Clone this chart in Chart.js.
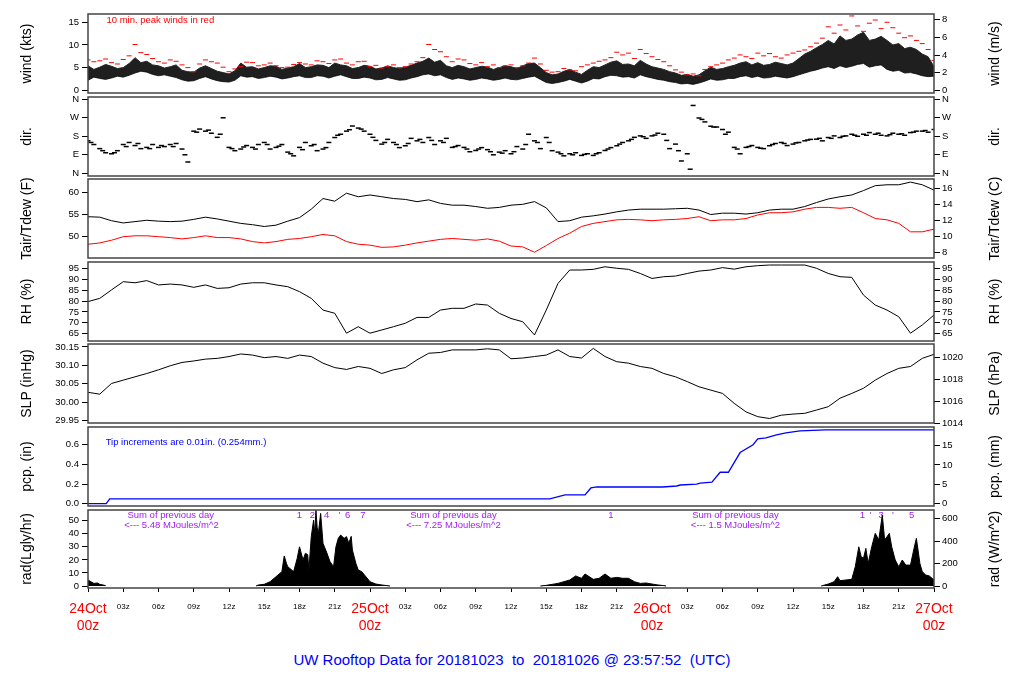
<!DOCTYPE html>
<html>
<head>
<meta charset="utf-8">
<script src="https://cdn.jsdelivr.net/npm/chart.js@4.4.1/dist/chart.umd.min.js"></script>
<style>
  body { margin: 0; background: #fff; width: 1024px; height: 700px; position: relative; overflow: hidden; font-family: "Liberation Sans", Arial, sans-serif; }
  #title { position: absolute; left: 0; top: 651px; width: 1024px; text-align: center; color: #0000ff; font-size: 15px; white-space: pre; }
</style>
</head>
<body>
<div id="title">UW Rooftop Data for 20181023  to  20181026 @ 23:57:52  (UTC)</div>
<script>
// sample times (hours after 24Oct 00z)
const hours = [0,1,2,3,4,5,6,7,8,9,10,11,12,13,14,15,16,17,18,19,20,21,22,23,24,25,26,27,28,29,30,31,32,33,34,35,36,
  37,38,39,40,41,42,43,44,45,46,47,48,49,50,51,52,53,54,55,56,57,58,59,60,61,62,63,64,65,66,67,68,69,70,71,72];
const halfHours = [0.5,1.5,2.5,3.5,4.5,5.5,6.5,7.5,8.5,9.5,10.5,11.5,12.5,13.5,14.5,15.5,16.5,17.5,18.5,19.5,20.5,21.5,
  22.5,23.5,24.5,25.5,26.5,27.5,28.5,29.5,30.5,31.5,32.5,33.5,34.5,35.5,36.5,37.5,38.5,39.5,40.5,41.5,42.5,43.5,44.5,
  45.5,46.5,47.5,48.5,49.5,50.5,51.5,52.5,53.5,54.5,55.5,56.5,57.5,58.5,59.5,60.5,61.5,62.5,63.5,64.5,65.5,66.5,67.5,
  68.5,69.5,70.5,71.5];
const quarterHours = [0.25,1.25,2.25,3.25,4.25,5.25,6.25,7.25,8.25,9.25,10.25,11.25,12.25,13.25,14.25,15.25,16.25,17.25,
  18.25,19.25,20.25,21.25,22.25,23.25,24.25,25.25,26.25,27.25,28.25,29.25,30.25,31.25,32.25,33.25,34.25,35.25,36.25,
  37.25,38.25,39.25,40.25,41.25,42.25,43.25,44.25,45.25,46.25,47.25,48.25,49.25,50.25,51.25,52.25,53.25,54.25,55.25,
  56.25,57.25,58.25,59.25,60.25,61.25,62.25,63.25,64.25,65.25,66.25,67.25,68.25,69.25,70.25,71.25];
const windTimes = [0,0.5,1,1.5,2,2.5,3,3.5,4,4.5,5,5.5,6,6.5,7,7.5,8,8.5,9,9.5,10,10.5,11,11.5,12,12.5,13,13.5,14,14.5,
  15,15.5,16,16.5,17,17.5,18,18.5,19,19.5,20,20.5,21,21.5,22,22.5,23,23.5,24,24.5,25,25.5,26,26.5,27,27.5,28,28.5,29,
  29.5,30,30.5,31,31.5,32,32.5,33,33.5,34,34.5,35,35.5,36,36.5,37,37.5,38,38.5,39,39.5,40,40.5,41,41.5,42,42.5,43,
  43.5,44,44.5,45,45.5,46,46.5,47,47.5,48,48.5,49,49.5,50,50.5,51,51.5,52,52.5,53,53.5,54,54.5,55,55.5,56,56.5,57,
  57.5,58,58.5,59,59.5,60,60.5,61,61.5,62,62.5,63,63.5,64,64.5,65,65.5,66,66.5,67,67.5,68,68.5,69,69.5,70,70.5,71,
  71.5,72];

// wind (kts): upper / lower edge of the 1-min trace (half hourly), and 10 min peaks
const windHi = [5.4,4.6,5.1,5.7,5.3,4.8,5.0,5.9,7.2,6.1,6.4,5.6,5.4,4.9,5.2,5.6,4.4,4.1,4.0,4.9,5.4,4.8,4.2,3.9,3.6,
  4.3,6.0,5.1,5.2,4.7,5.0,5.4,5.3,4.6,4.9,5.2,5.9,5.0,5.2,5.6,5.5,5.0,6.0,5.6,5.4,4.8,5.0,5.5,5.3,4.7,4.9,5.4,5.0,
  4.8,5.1,5.5,6.0,6.4,7.1,6.2,6.6,5.4,5.0,5.5,5.2,4.7,5.0,5.3,5.1,4.6,5.0,5.4,5.2,4.8,5.4,5.9,6.0,5.0,3.9,3.4,3.6,
  4.2,4.6,4.0,3.5,4.4,5.2,5.0,5.6,6.2,6.5,5.7,5.8,5.4,6.6,5.8,5.2,4.9,4.6,4.1,3.8,3.3,3.5,3.1,3.4,4.3,5.1,4.6,4.8,
  5.2,5.5,6.0,6.3,5.6,6.1,5.5,5.7,6.2,5.9,5.6,6.0,7.0,8.0,8.6,9.4,10.1,11.0,10.2,12.0,11.0,11.3,12.2,12.8,11.0,11.3,
  11.9,11.0,10.0,10.3,9.2,9.5,9.0,8.0,7.4,5.2];
const windLo = [2.2,2.9,2.6,2.4,2.7,3.1,2.9,3.3,3.8,4.2,4.0,3.5,3.2,3.4,3.1,2.8,2.3,2.0,2.1,2.6,3.0,2.5,2.1,1.9,1.8,
  2.2,3.2,2.9,3.0,2.6,2.8,3.1,2.9,2.5,2.7,3.0,3.2,2.8,2.8,3.2,3.1,2.7,3.1,3.4,3.0,2.6,2.6,2.9,2.7,2.3,2.4,2.8,2.5,
  2.2,2.3,2.7,3.0,3.4,3.6,3.2,3.4,2.8,2.4,2.7,2.5,2.2,2.4,2.7,2.5,2.2,2.4,2.7,2.4,2.3,2.6,2.9,3.1,2.4,1.7,1.5,1.7,
  2.0,2.4,2.0,1.6,2.0,2.6,2.5,3.0,3.3,3.2,2.9,3.0,2.7,3.4,3.0,2.7,2.4,2.2,1.9,1.7,1.4,1.5,1.3,1.6,2.0,2.5,2.2,2.3,
  2.6,2.6,3.0,3.2,2.8,3.1,2.7,2.8,3.1,2.9,2.7,3.0,3.4,3.8,4.2,4.5,4.9,5.2,4.8,5.4,5.0,5.3,5.7,5.9,5.1,5.4,5.6,4.6,
  4.2,4.4,3.8,3.9,3.6,3.2,3.0,3.1];
const windPeak = [6.7,6.5,6.1,6.8,10.1,7.9,6.3,6.7,5.6,4.1,6.7,6.0,4.1,5.2,6.1,5.6,5.4,5.1,6.1,5.6,6.3,6.7,6.0,6.3,5.2,
  4.9,5.6,5.2,6.3,10.1,8.5,6.3,6.7,5.6,5.2,5.0,5.6,5.4,7.1,4.4,4.1,4.5,5.2,6.0,6.7,8.4,8.2,9.0,7.4,6.3,4.5,3.4,3.2,5.2,
  6.0,7.1,7.4,8.2,8.1,7.1,8.2,8.9,10.4,14.0,14.4,16.4,13.0,15.5,15.0,12.6,12.0,10.3,6.6];
const windPeakHalf = [6.3,6.9,5.8,7.6,8.3,7.0,6.0,6.4,5.0,5.8,6.3,5.1,4.7,6.2,5.4,6.0,5.0,5.7,5.8,6.5,5.9,6.9,5.6,6.4,
  5.5,5.2,5.0,5.8,7.2,9.0,7.4,6.9,5.9,6.1,5.6,5.4,5.0,6.0,5.8,4.0,4.8,4.3,5.6,6.4,7.2,7.8,7.0,8.1,6.8,5.4,4.0,3.6,4.6,
  5.6,6.7,7.8,7.0,7.6,7.4,7.8,8.6,9.6,11.5,12.6,13.3,14.2,14.8,13.6,13.8,11.6,11.0,9.0];

// wind direction (deg), on the hour, quarter past and half past
const dirA = [158,120,95,140,135,126,126,140,118,205,205,175,126,118,126,150,126,103,126,134,118,174,205,220,190,142,150,
  134,158,174,158,126,126,111,115,103,95,118,158,174,103,95,87,87,111,134,158,182,182,190,142,95,269,229,213,126,126,
  126,134,150,142,158,166,174,174,190,190,190,182,190,198,205,213];
const dirB = [140,100,110,150,120,140,130,145,55,215,195,270,110,135,140,118,140,85,150,110,150,190,230,205,160,165,125,
  170,150,140,170,135,105,125,90,110,130,190,120,110,85,100,95,100,125,150,175,170,195,120,60,330,250,225,200,95,135,
  120,145,135,150,165,158,182,182,180,198,185,195,185,205,200];
const dirC = [150,110,100,130,145,120,135,130,90,200,210,190,120,128,118,140,132,95,115,140,125,185,212,215,175,150,140,
  145,165,160,150,130,118,118,105,98,105,140,150,150,95,90,92,95,118,142,165,178,186,160,110,20,262,225,190,118,130,
  122,140,145,148,162,170,170,180,185,185,195,188,192,200,208];

// air and dew point temperature (F)
const tair = [54.5,54.4,53.6,53.1,53.4,53.7,53.5,53.4,53.5,53.9,54.4,54.0,53.5,53.0,52.7,52.3,52.6,53.5,54.3,56.2,58.6,
  58.0,59.8,59.0,59.4,59.0,58.6,58.4,57.9,58.3,57.5,57.1,57.1,56.8,56.4,56.6,57.1,57.3,57.9,56.5,53.4,53.6,54.4,54.7,
  55.1,55.6,56.0,56.2,56.2,56.2,56.3,56.4,56.0,55.0,55.3,55.3,55.1,55.4,56.0,56.2,56.2,56.8,57.7,58.5,59.0,59.4,60.4,
  61.5,61.7,61.7,62.3,61.7,60.5];
const tdew = [48.3,48.6,49.2,50.0,50.2,50.2,50.0,49.8,49.5,49.8,50.2,49.8,49.8,49.5,48.9,48.6,48.9,49.4,49.6,50.0,50.5,
  50.2,48.9,48.3,48.1,47.6,47.7,48.1,48.6,49.0,49.4,49.6,49.4,49.2,49.5,49.0,47.9,47.7,46.5,48.0,49.6,50.8,52.3,53.0,
  53.4,53.8,53.9,53.8,53.6,53.8,53.9,54.1,54.5,53.6,53.8,53.8,54.1,54.9,55.4,55.4,55.6,56.2,56.6,56.6,56.4,56.6,55.4,
  54.1,53.8,53.0,51.1,51.1,51.7];

// relative humidity (%)
const rh = [79.8,81.3,85.2,89.0,88.5,89.5,87.5,87.9,87.5,86.4,87.5,85.9,86.2,87.9,88.5,88.5,87.5,86.7,84.4,81.3,75.9,
  74.4,65.2,68.2,65.2,66.7,68.2,69.8,72.5,72.5,75.9,76.7,76.7,78.7,78.2,74.4,72.0,70.5,64.4,75.9,88.2,94.4,94.4,94.7,
  95.9,95.2,94.7,92.8,90.5,91.3,91.6,92.8,93.9,94.4,95.5,94.8,95.9,96.4,96.7,96.7,96.7,96.7,95.2,92.8,91.3,91.0,82.8,
  78.2,75.9,72.8,65.2,69.0,73.6];

// sea level pressure (inHg)
const slp = [30.027,30.022,30.051,30.060,30.069,30.078,30.088,30.099,30.108,30.112,30.117,30.119,30.124,30.131,30.128,
  30.121,30.124,30.119,30.128,30.124,30.106,30.094,30.089,30.097,30.092,30.078,30.088,30.094,30.115,30.133,30.135,
  30.142,30.142,30.142,30.145,30.142,30.118,30.120,30.124,30.128,30.142,30.124,30.120,30.146,30.124,30.110,30.106,
  30.097,30.092,30.078,30.069,30.056,30.042,30.033,30.024,29.997,29.974,29.961,29.956,29.965,29.968,29.970,29.979,
  29.988,30.011,30.024,30.038,30.060,30.078,30.092,30.097,30.119,30.130];

// accumulated precipitation (in)
const pcpHours = [0,1.55,1.85,39.3,40.6,42.3,42.8,43.3,48.9,50.1,50.4,51.8,52.1,53.1,53.8,54.5,55.5,56.6,57.0,57.7,58.6,
  59.4,60.6,62.8,72];
const pcpVals = [0,0,0.05,0.05,0.09,0.09,0.16,0.17,0.17,0.18,0.19,0.20,0.21,0.22,0.32,0.32,0.52,0.60,0.66,0.67,0.70,
  0.72,0.74,0.75,0.75];

// solar radiation (Langley/hr); null = night gap
const radHours = [0,0.3,0.5,0.8,1,1.5,1.6,
  14.3,14.5,15,15.5,16,16.5,16.7,16.9,17,17.5,17.8,18,18.3,18.5,18.7,18.8,19,19.2,19.3,19.4,19.5,19.6,19.8,20,20.3,
  20.6,20.9,21.1,21.3,21.5,21.8,22,22.2,22.4,22.5,22.8,23,23.3,23.6,24,24.5,25,25.7,25.8,
  38.5,39,40,41,41.5,42,42.3,43,43.5,44,44.5,45,45.5,46,46.5,47,47.5,48,48.5,49,49.2,49.3,
  62.4,63,63.5,63.8,64,64.5,65,65.3,65.6,65.8,66,66.2,66.4,66.7,67,67.3,67.6,67.8,68,68.2,68.4,68.7,69,69.3,69.6,70,
  70.3,70.5,70.8,71,71.3,71.6,72];
const radVals = [4.6,3,2,2.3,1.3,0.3,null,
  0,0.8,1.3,3.3,7.1,11,23,17,14.8,11,21,30,20,25,24,12,37.8,50.5,40,58,45,40,55.6,32.7,26,
  18.6,14.8,30,36.5,39,36.5,37.8,32.7,38,27.6,17.3,12.2,11,7.7,3.3,1.5,0.8,0,null,
  0,0.5,2,4.6,7.7,5.9,9.2,5.1,5.9,9.2,5.9,6.6,5.9,5.9,3.3,2,2.3,1.5,0.8,0.3,0,null,
  0,1.5,3.3,7.1,4.1,4.6,5.1,14.8,30,22.4,21.2,28.8,17.3,30,40.3,35.2,54.3,35.2,37.8,40.3,30,19.9,14.8,19.9,16,16,
  28.8,36.5,17.3,11,8.4,7.7,4.6];

// axis ticks
const timeTicks = [0,3,6,9,12,15,18,21,24,27,30,33,36,39,42,45,48,51,54,57,60,63,66,69,72];
const timeLabels = [['24Oct','00z'],'03z','06z','09z','12z','15z','18z','21z',['25Oct','00z'],'03z','06z','09z','12z',
  '15z','18z','21z',['26Oct','00z'],'03z','06z','09z','12z','15z','18z','21z',['27Oct','00z']];
const windTicks = [0,5,10,15];
const windMsTicks = [0,2,4,6,8];
const dirTicks = [0,90,180,270,360];
const dirLabels = ['N','E','S','W','N'];
const tempFTicks = [50,55,60];
const tempCTicks = [8,10,12,14,16];
const rhTicks = [65,70,75,80,85,90,95];
const slpTicks = [29.95,30.00,30.05,30.10,30.15];
const slpHpaTicks = [1014,1016,1018,1020];
const pcpTicks = [0,0.2,0.4,0.6];
const pcpMmTicks = [0,5,10,15];
const radTicks = [0,10,20,30,40,50];
const radWTicks = [0,200,400,600];

Chart.defaults.font.family = '"Liberation Sans", Arial, Helvetica, sans-serif';
Chart.defaults.color = '#000';

const PURPLE = '#a020f0';
const panelTops = [14, 97, 179, 262, 344, 427, 510];
const panelHeights = [79, 79, 79, 79, 79, 79, 78];

const pts = (xs, ys) => xs.map((x, i) => ({x: x, y: ys[i]}));

function decor(leftTitle, rightTitle, notes) {
    return {
        id: 'decor',
        beforeDatasetsDraw(chart) {
            const ctx = chart.ctx;
            ctx.save();
            notes.forEach(n => {
                ctx.fillStyle = n.color;
                ctx.font = (n.size || 9.5) + 'px "Liberation Sans", Arial, sans-serif';
                ctx.textAlign = n.align || 'center';
                ctx.textBaseline = 'middle';
                ctx.fillText(n.text, chart.scales.x.getPixelForValue(n.x), chart.scales.y.getPixelForValue(n.y));
            });
            ctx.restore();
        },
        afterDraw(chart) {
            const ctx = chart.ctx, a = chart.chartArea;
            ctx.save();
            ctx.strokeStyle = '#444';
            ctx.lineWidth = 1.5;
            ctx.strokeRect(a.left, a.top, a.right - a.left, a.bottom - a.top);
            ctx.fillStyle = '#000';
            ctx.font = '14px "Liberation Sans", Arial, sans-serif';
            ctx.textAlign = 'center';
            ctx.textBaseline = 'middle';
            const cy = (a.top + a.bottom) / 2;
            [[27, leftTitle], [995, rightTitle]].forEach(([x, t]) => {
                ctx.save();
                ctx.translate(x, cy);
                ctx.rotate(-Math.PI / 2);
                ctx.fillText(t, 0, 0);
                ctx.restore();
            });
            ctx.restore();
        }
    };
}

function yAxis(pos, min, max, ticks, fmt) {
    return {
        type: 'linear', position: pos, min: min, max: max,
        afterFit: s => { s.width = pos === 'left' ? 88 : 90; },
        afterBuildTicks: s => { s.ticks = ticks.map(v => ({value: v})); },
        grid: {drawOnChartArea: false, drawTicks: true, tickLength: 6, color: '#000'},
        border: {display: false},
        ticks: {autoSkip: false, padding: pos === 'left' ? 3 : 2, font: {size: 9.5}, color: '#000',
            callback: (v, i) => fmt(v, i)}
    };
}

const plain = v => String(v);

const xAxis = {
    type: 'linear', position: 'bottom', min: 0, max: 72,
    afterFit: s => { s.height = 52; },
    afterBuildTicks: s => { s.ticks = timeTicks.map(v => ({value: v})); },
    grid: {drawOnChartArea: false, drawTicks: true, tickLength: 4, color: '#000'},
    border: {display: false},
    ticks: {
        autoSkip: false, maxRotation: 0, padding: 9.5,
        callback: (v, i) => timeLabels[i],
        color: c => (c.tick && c.tick.value % 24 === 0) ? '#ff0000' : '#000',
        font: c => (c.tick && c.tick.value % 24 === 0) ? {size: 14, lineHeight: 1.15} : {size: 8}
    }
};

function panel(i, datasets, yl, yr, leftTitle, rightTitle, notes, showX) {
    const padT = 12, padB = showX ? 0 : 12, axisH = showX ? 52 : 0;
    const wrap = document.createElement('div');
    wrap.style.cssText = 'position:absolute;left:0;top:' + (panelTops[i] - padT) + 'px';
    const cv = document.createElement('canvas');
    cv.width = 1024;
    cv.height = padT + panelHeights[i] + padB + axisH;
    wrap.appendChild(cv);
    document.body.appendChild(wrap);
    return new Chart(cv, {
        type: 'line',
        data: {datasets: datasets},
        options: {
            responsive: false, animation: false,
            layout: {padding: {top: padT, bottom: padB, left: 0, right: 0}},
            plugins: {legend: {display: false}, tooltip: {enabled: false}},
            elements: {point: {radius: 0}, line: {tension: 0}},
            scales: {
                x: showX ? xAxis : {type: 'linear', min: 0, max: 72, display: false},
                y: yl,
                y2: yr
            }
        },
        plugins: [decor(leftTitle, rightTitle, notes)]
    });
}

const KTS_PER_MS = 1.94384, HPA_PER_INHG = 33.8639, MM_PER_IN = 25.4, WM2_PER_LYHR = 11.63;
const fToC = f => (f - 32) / 1.8;

const dash = (xs, ys, color, w) => ({data: pts(xs, ys), showLine: false, pointStyle: 'line', pointRadius: 2.5,
    pointBorderColor: color, pointBorderWidth: w, borderColor: color});

// wind
panel(0, [
    dash(hours, windPeak, '#ff0000', 1),
    dash(halfHours, windPeakHalf, '#ff0000', 1),
    {data: pts(windTimes, windHi), borderColor: '#222', borderWidth: 1, backgroundColor: 'rgba(0,0,0,0.88)', fill: '+1'},
    {data: pts(windTimes, windLo), borderColor: '#444', borderWidth: 1, fill: false}
], yAxis('left', -0.6, 16.83, windTicks, plain),
   yAxis('right', -0.6 / KTS_PER_MS, 16.83 / KTS_PER_MS, windMsTicks, plain),
   'wind (kts)', 'wind (m/s)',
   [{text: '10 min. peak winds in red', x: 1.57, y: 15.5, color: '#ff0000', align: 'left'}], false);

// direction
panel(1, [
    dash(hours, dirA, '#000', 1.5),
    dash(quarterHours, dirC, '#000', 1.5),
    dash(halfHours, dirB, '#000', 1.5)
], yAxis('left', -13.1, 371.1, dirTicks, (v, i) => dirLabels[i]),
   yAxis('right', -13.1, 371.1, dirTicks, (v, i) => dirLabels[i]),
   'dir.', 'dir.', [], false);

// temperature / dew point
panel(2, [
    {data: pts(hours, tair), borderColor: '#000', borderWidth: 1},
    {data: pts(hours, tdew), borderColor: '#ff0000', borderWidth: 1}
], yAxis('left', 45.2, 63.0, tempFTicks, plain),
   yAxis('right', fToC(45.2), fToC(63.0), tempCTicks, plain),
   'Tair/Tdew (F)', 'Tair/Tdew (C)', [], false);

// relative humidity
panel(3, [
    {data: pts(hours, rh), borderColor: '#000', borderWidth: 1}
], yAxis('left', 61.6, 98.1, rhTicks, plain),
   yAxis('right', 61.6, 98.1, rhTicks, plain),
   'RH (%)', 'RH (%)', [], false);

// pressure
panel(4, [
    {data: pts(hours, slp), borderColor: '#000', borderWidth: 1}
], yAxis('left', 29.9438, 30.158, slpTicks, v => v.toFixed(2)),
   yAxis('right', 29.9438 * HPA_PER_INHG, 30.158 * HPA_PER_INHG, slpHpaTicks, plain),
   'SLP (inHg)', 'SLP (hPa)', [], false);

// precipitation
panel(5, [
    {data: pts(pcpHours, pcpVals), borderColor: '#0000ff', borderWidth: 1.3}
], yAxis('left', -0.0234, 0.78, pcpTicks, v => v.toFixed(1)),
   yAxis('right', -0.0234 * MM_PER_IN, 0.78 * MM_PER_IN, pcpMmTicks, plain),
   'pcp. (in)', 'pcp. (mm)',
   [{text: 'Tip increments are 0.01in. (0.254mm.)', x: 1.5, y: 0.625, color: '#0000ff', align: 'left'}], false);

// radiation
panel(6, [
    {data: pts(radHours, radVals), borderColor: '#000', borderWidth: 1, backgroundColor: '#000',
        fill: 'origin', spanGaps: false}
], yAxis('left', -1.53, 58.19, radTicks, plain),
   yAxis('right', -1.53 * WM2_PER_LYHR, 58.19 * WM2_PER_LYHR, radWTicks, plain),
   'rad(Lgly/hr)', 'rad (W/m^2)',
   [
    {text: 'Sum of previous day', x: 7.04, y: 54.3, color: PURPLE},
    {text: '<--- 5.48 MJoules/m^2', x: 7.1, y: 46.1, color: PURPLE},
    {text: 'Sum of previous day', x: 31.1, y: 54.3, color: PURPLE},
    {text: '<--- 7.25 MJoules/m^2', x: 31.1, y: 46.1, color: PURPLE},
    {text: 'Sum of previous day', x: 55.1, y: 54.3, color: PURPLE},
    {text: '<--- 1.5 MJoules/m^2', x: 55.1, y: 46.1, color: PURPLE},
    {text: '1', x: 18.0, y: 54.3, color: PURPLE},
    {text: '2', x: 19.1, y: 54.3, color: PURPLE},
    {text: '4', x: 20.3, y: 54.3, color: PURPLE},
    {text: "'", x: 21.4, y: 54.3, color: PURPLE},
    {text: '6', x: 22.1, y: 54.3, color: PURPLE},
    {text: '7', x: 23.4, y: 54.3, color: PURPLE},
    {text: '1', x: 44.5, y: 54.3, color: PURPLE},
    {text: '1', x: 65.9, y: 54.3, color: PURPLE},
    {text: "'", x: 66.6, y: 54.3, color: PURPLE},
    {text: '3', x: 67.5, y: 54.3, color: PURPLE},
    {text: "'", x: 68.5, y: 54.3, color: PURPLE},
    {text: '5', x: 70.1, y: 54.3, color: PURPLE}
   ], true);
</script>
</body>
</html>
